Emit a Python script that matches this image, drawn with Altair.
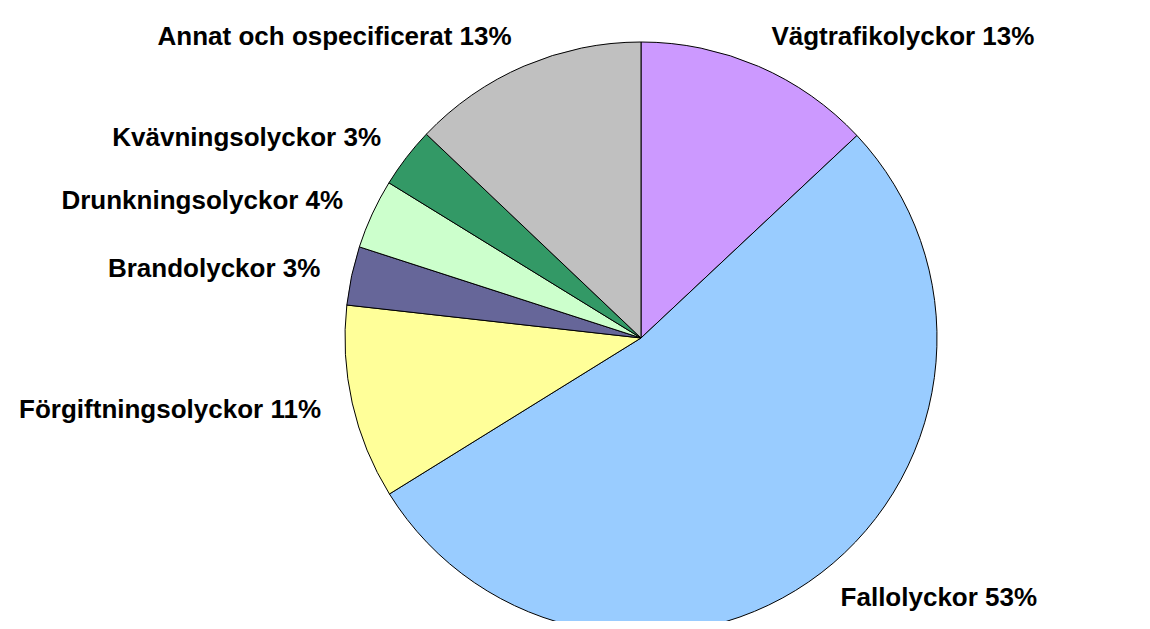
import math
import altair as alt
import pandas as pd

categories = [
    "Vägtrafikolyckor",
    "Fallolyckor",
    "Förgiftningsolyckor",
    "Brandolyckor",
    "Drunkningsolyckor",
    "Kvävningsolyckor",
    "Annat och ospecificerat",
]
shares = [13.0, 53.1, 10.6, 3.2, 3.8, 3.3, 12.9]
percent_labels = ["13%", "53%", "11%", "3%", "4%", "3%", "13%"]
colors = ["#CC99FF", "#99CCFF", "#FFFF99", "#666699", "#CCFFCC", "#339966", "#C0C0C0"]

df = pd.DataFrame({
    "category": categories,
    "share": shares,
    "pct": percent_labels,
    "order": list(range(len(categories))),
})

theta_scale = alt.Scale(domain=[0, 1], range=[0, 2 * math.pi])
CX, CY = 633, 330

base = (
    alt.Chart(df)
    .transform_window(cum="sum(share)", sort=[alt.SortField("order")], frame=[None, 0])
    .transform_joinaggregate(total="sum(share)")
    .transform_calculate(
        start="(datum.cum - datum.share) / datum.total",
        end="datum.cum / datum.total",
        mid="(datum.cum - datum.share / 2) / datum.total",
        label="datum.category + ' ' + datum.pct",
    )
)

pie = base.mark_arc(radius=296, stroke="black", strokeWidth=1).encode(
    x=alt.value(CX),
    y=alt.value(CY),
    theta=alt.Theta("start:Q", stack=None, scale=theta_scale),
    theta2="end:Q",
    color=alt.Color("category:N", scale=alt.Scale(domain=categories, range=colors), legend=None),
)

text_props = dict(radius=328, baseline="middle", font="Liberation Sans",
                  fontSize=26, fontWeight="bold", color="black")

right_labels = base.transform_filter("datum.mid < 0.5").mark_text(align="left", **text_props).encode(
    x=alt.value(CX),
    y=alt.value(CY),
    theta=alt.Theta("mid:Q", stack=None, scale=theta_scale),
    text="label:N",
)
left_labels = base.transform_filter("datum.mid >= 0.5").mark_text(align="right", **text_props).encode(
    x=alt.value(CX),
    y=alt.value(CY),
    theta=alt.Theta("mid:Q", stack=None, scale=theta_scale),
    text="label:N",
)

chart = (
    alt.layer(pie, right_labels, left_labels)
    .properties(width=1130, height=613, padding=0, autosize="none", background="white")
    .configure_view(stroke=None)
)

chart.save("out.html", embed_options={"renderer": "svg", "actions": False})
